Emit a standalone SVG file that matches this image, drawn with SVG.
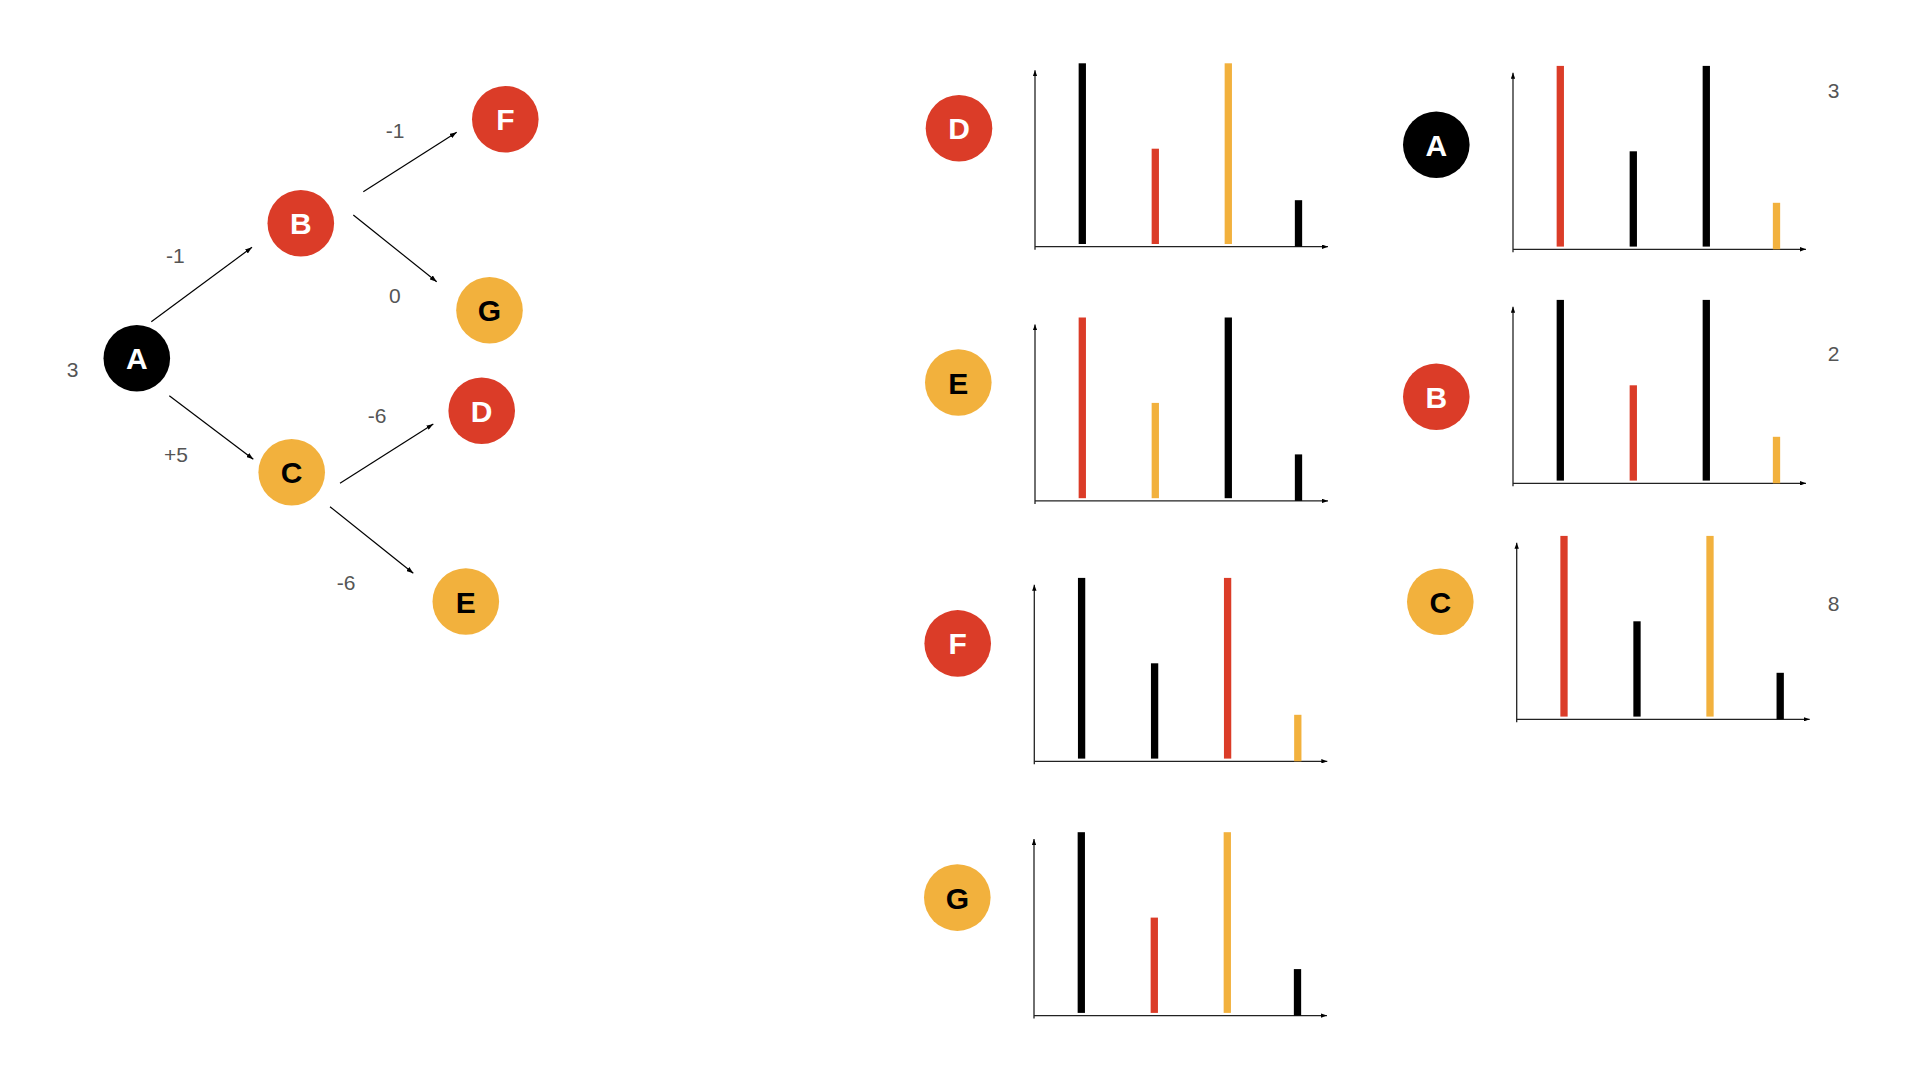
<svg xmlns="http://www.w3.org/2000/svg" width="1920" height="1080" viewBox="0 0 1920 1080">
<style>
.red{fill:#DB3C28}
.org{fill:#F2B13D}
.blk{fill:#000}
.nt{font-family:"Liberation Sans",Arial,sans-serif;font-weight:bold;font-size:30px;text-anchor:middle}
.w{fill:#fff}
.k{fill:#000}
.lbl{font-family:"Liberation Sans",Arial,sans-serif;font-size:21px;fill:#555}
.edge{stroke:#000;stroke-width:1.2;fill:none;marker-end:url(#ah)}
.axis{stroke:#222;stroke-width:1.3;fill:none;marker-end:url(#ax)}
</style>
<defs>
<marker id="ah" viewBox="0 0 7 5" refX="7" refY="2.5" markerWidth="7" markerHeight="5" markerUnits="userSpaceOnUse" orient="auto">
<path d="M0,0 L7,2.5 L0,5 z" fill="#000"/>
</marker>
<marker id="ax" viewBox="0 0 6 4.4" refX="6" refY="2.2" markerWidth="6" markerHeight="4.4" markerUnits="userSpaceOnUse" orient="auto">
<path d="M0,0 L6,2.2 L0,4.4 z" fill="#000"/>
</marker>
</defs>
<rect width="1920" height="1080" fill="#fff"/>

<g id="connectors">
<line class="edge" x1="151.3" y1="321.7" x2="252" y2="247.3"/>
<line class="edge" x1="363.3" y1="191.7" x2="456.7" y2="132.3"/>
<line class="edge" x1="353.3" y1="215" x2="436.7" y2="281.7"/>
<line class="edge" x1="169.3" y1="395.7" x2="253.3" y2="459.3"/>
<line class="edge" x1="340" y1="483.3" x2="433.3" y2="424"/>
<line class="edge" x1="330" y1="506.7" x2="413.3" y2="573.3"/>
</g>

<g id="edge-labels">
<text class="lbl" x="166" y="263">-1</text>
<text class="lbl" x="385.7" y="137.5">-1</text>
<text class="lbl" x="389" y="303">0</text>
<text class="lbl" x="66.7" y="377.3">3</text>
<text class="lbl" x="164" y="462.3">+5</text>
<text class="lbl" x="367.7" y="422.5">-6</text>
<text class="lbl" x="336.7" y="590">-6</text>
</g>

<g id="tree-A"><circle class="blk" cx="136.8" cy="358.3" r="33.3"/><text class="nt w" x="136.8" y="369.3">A</text></g>
<g id="tree-B"><circle class="red" cx="300.8" cy="223.3" r="33.3"/><text class="nt w" x="300.8" y="234.3">B</text></g>
<g id="tree-C"><circle class="org" cx="291.7" cy="472.3" r="33.3"/><text class="nt k" x="291.7" y="483.3">C</text></g>
<g id="tree-D"><circle class="red" cx="481.7" cy="410.7" r="33.3"/><text class="nt w" x="481.7" y="421.7">D</text></g>
<g id="tree-E"><circle class="org" cx="465.8" cy="601.5" r="33.3"/><text class="nt k" x="465.8" y="612.5">E</text></g>
<g id="tree-F"><circle class="red" cx="505.3" cy="119.3" r="33.3"/><text class="nt w" x="505.3" y="130.3">F</text></g>
<g id="tree-G"><circle class="org" cx="489.5" cy="310.2" r="33.3"/><text class="nt k" x="489.5" y="321.2">G</text></g>

<g id="chart-node-D"><circle class="red" cx="959" cy="128.3" r="33.3"/><text class="nt w" x="959" y="139.3">D</text></g>
<g id="chart-node-E"><circle class="org" cx="958.3" cy="382.5" r="33.3"/><text class="nt k" x="958.3" y="393.5">E</text></g>
<g id="chart-node-F"><circle class="red" cx="957.7" cy="643.4" r="33.3"/><text class="nt w" x="957.7" y="654.4">F</text></g>
<g id="chart-node-G"><circle class="org" cx="957.3" cy="897.6" r="33.3"/><text class="nt k" x="957.3" y="908.6">G</text></g>
<g id="chart-node-A"><circle class="blk" cx="1436.3" cy="144.7" r="33.3"/><text class="nt w" x="1436.3" y="155.7">A</text></g>
<g id="chart-node-B"><circle class="red" cx="1436.3" cy="396.7" r="33.3"/><text class="nt w" x="1436.3" y="407.7">B</text></g>
<g id="chart-node-C"><circle class="org" cx="1440.3" cy="601.7" r="33.3"/><text class="nt k" x="1440.3" y="612.7">C</text></g>

<g id="chart-D" transform="translate(1035,246.7)">
<line class="axis" x1="0" y1="3" x2="0" y2="-176.5"/>
<line class="axis" x1="0" y1="0" x2="293" y2="0"/>
<rect class="blk" x="43.65" y="-183.4" width="7.3" height="180.7"/>
<rect class="red" x="116.65" y="-98" width="7.3" height="95.3"/>
<rect class="org" x="189.65" y="-183.4" width="7.3" height="180.7"/>
<rect class="blk" x="259.85" y="-46.5" width="7.3" height="46.5"/>
</g>
<g id="chart-E" transform="translate(1035,500.9)">
<line class="axis" x1="0" y1="3" x2="0" y2="-176.5"/>
<line class="axis" x1="0" y1="0" x2="293" y2="0"/>
<rect class="red" x="43.65" y="-183.4" width="7.3" height="180.7"/>
<rect class="org" x="116.65" y="-98" width="7.3" height="95.3"/>
<rect class="blk" x="189.65" y="-183.4" width="7.3" height="180.7"/>
<rect class="blk" x="259.85" y="-46.5" width="7.3" height="46.5"/>
</g>
<g id="chart-F" transform="translate(1034.3,761.3)">
<line class="axis" x1="0" y1="3" x2="0" y2="-176.5"/>
<line class="axis" x1="0" y1="0" x2="293" y2="0"/>
<rect class="blk" x="43.65" y="-183.4" width="7.3" height="180.7"/>
<rect class="blk" x="116.65" y="-98" width="7.3" height="95.3"/>
<rect class="red" x="189.65" y="-183.4" width="7.3" height="180.7"/>
<rect class="org" x="259.85" y="-46.5" width="7.3" height="46.5"/>
</g>
<g id="chart-G" transform="translate(1034,1015.6)">
<line class="axis" x1="0" y1="3" x2="0" y2="-176.5"/>
<line class="axis" x1="0" y1="0" x2="293" y2="0"/>
<rect class="blk" x="43.65" y="-183.4" width="7.3" height="180.7"/>
<rect class="red" x="116.65" y="-98" width="7.3" height="95.3"/>
<rect class="org" x="189.65" y="-183.4" width="7.3" height="180.7"/>
<rect class="blk" x="259.85" y="-46.5" width="7.3" height="46.5"/>
</g>
<g id="chart-A" transform="translate(1513,249.3)">
<line class="axis" x1="0" y1="3" x2="0" y2="-176.5"/>
<line class="axis" x1="0" y1="0" x2="293" y2="0"/>
<rect class="red" x="43.65" y="-183.4" width="7.3" height="180.7"/>
<rect class="blk" x="116.65" y="-98" width="7.3" height="95.3"/>
<rect class="blk" x="189.65" y="-183.4" width="7.3" height="180.7"/>
<rect class="org" x="259.85" y="-46.5" width="7.3" height="46.5"/>
</g>
<g id="chart-B" transform="translate(1513,483.3)">
<line class="axis" x1="0" y1="3" x2="0" y2="-176.5"/>
<line class="axis" x1="0" y1="0" x2="293" y2="0"/>
<rect class="blk" x="43.65" y="-183.4" width="7.3" height="180.7"/>
<rect class="red" x="116.65" y="-98" width="7.3" height="95.3"/>
<rect class="blk" x="189.65" y="-183.4" width="7.3" height="180.7"/>
<rect class="org" x="259.85" y="-46.5" width="7.3" height="46.5"/>
</g>
<g id="chart-C" transform="translate(1516.7,719.3)">
<line class="axis" x1="0" y1="3" x2="0" y2="-176.5"/>
<line class="axis" x1="0" y1="0" x2="293" y2="0"/>
<rect class="red" x="43.65" y="-183.4" width="7.3" height="180.7"/>
<rect class="blk" x="116.65" y="-98" width="7.3" height="95.3"/>
<rect class="org" x="189.65" y="-183.4" width="7.3" height="180.7"/>
<rect class="blk" x="259.85" y="-46.5" width="7.3" height="46.5"/>
</g>

<g id="chart-labels">
<text class="lbl" x="1827.7" y="98.3">3</text>
<text class="lbl" x="1827.7" y="361">2</text>
<text class="lbl" x="1827.7" y="610.7">8</text>
</g>
</svg>
